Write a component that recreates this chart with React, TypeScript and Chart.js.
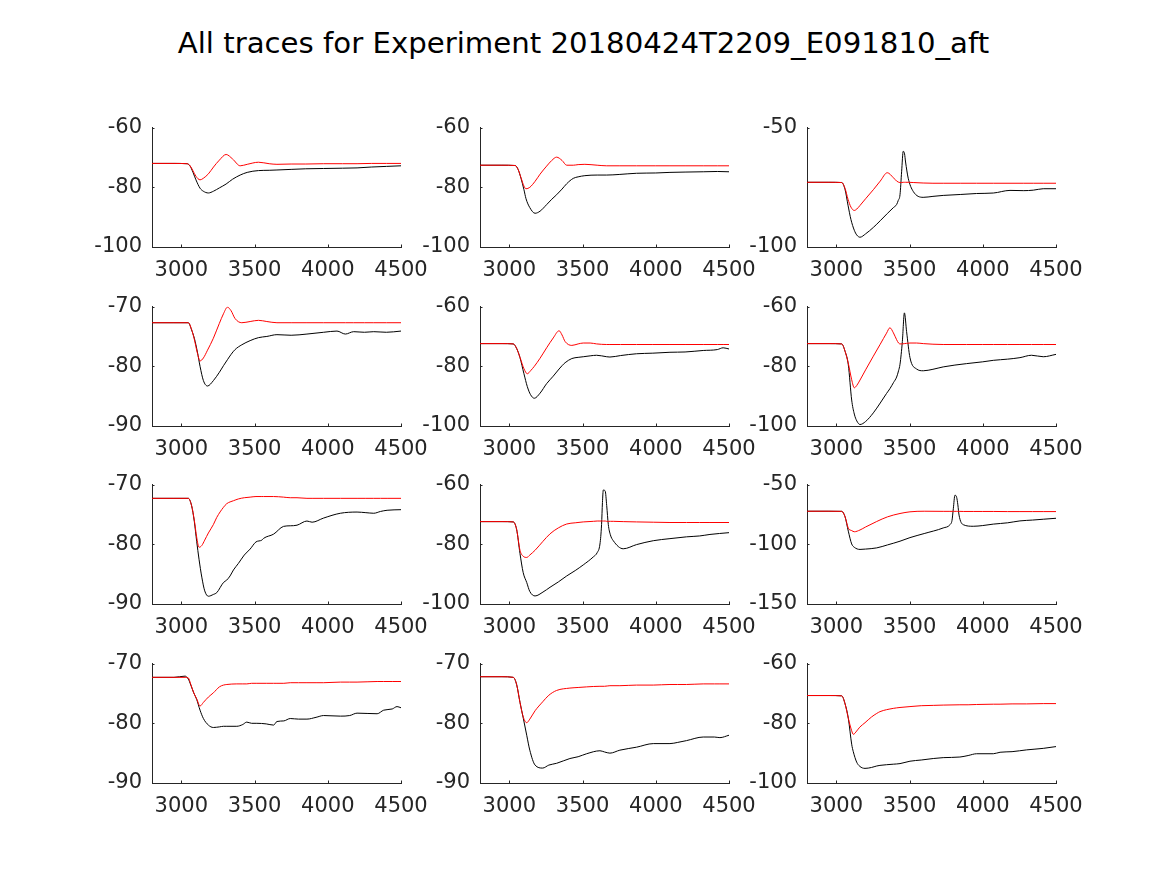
import React, { useEffect, useRef } from "react";
import { Chart, registerables } from "chart.js";

Chart.register(...registerables);

const TITLE = "All traces for Experiment 20180424T2209_E091810_aft";
const X_MIN = 2800;
const X_MAX = 4500;
const X_TICKS = [3000, 3500, 4000, 4500];

// Panel 1 (row 1, col 1)
const X1 = [2800, 2950, 3040, 3060, 3080, 3100, 3128, 3150, 3185, 3220, 3260, 3306, 3350, 3402, 3450, 3527, 3600, 3653, 3750, 3850, 3972, 4100, 4200, 4300, 4400, 4500];
const RED1 = [-72, -72, -72.1, -72.8, -74.5, -76.3, -77.5, -77.0, -75.5, -73.2, -70.9, -69.0, -70.5, -72.8, -72.3, -71.6, -72.1, -72.3, -72.2, -72.2, -72.1, -72.1, -72.1, -72.0, -72.0, -72.0];
const BLACK1 = [-72, -72, -72.1, -72.9, -75.0, -77.5, -80.3, -81.3, -81.9, -81.3, -80.2, -78.9, -77.3, -75.9, -75.0, -74.4, -74.3, -74.2, -74.0, -73.8, -73.7, -73.6, -73.5, -73.2, -73.0, -72.8];
const YT1 = [-100, -80, -60];

// Panel 2 (row 1, col 2)
const X2 = [2800, 2950, 3040, 3060, 3080, 3100, 3114, 3140, 3176, 3210, 3255, 3290, 3323, 3360, 3392, 3437, 3470, 3516, 3600, 3665, 3750, 3869, 4000, 4097, 4200, 4324, 4420, 4500];
const RED2 = [-72.6, -72.6, -72.7, -74.0, -76.8, -79.6, -80.5, -80.0, -78.0, -75.6, -72.9, -71.0, -69.9, -71.0, -72.6, -72.6, -72.4, -72.3, -72.6, -72.8, -72.8, -72.8, -72.8, -72.8, -72.8, -72.8, -72.8, -72.8];
const BLACK2 = [-72.6, -72.6, -72.7, -74.0, -77.0, -80.8, -83.8, -86.8, -88.7, -88.0, -85.8, -84.0, -82.5, -80.6, -78.8, -77.0, -76.5, -76.1, -75.9, -75.9, -75.7, -75.3, -75.2, -75.0, -74.9, -74.8, -74.7, -74.8];
const YT2 = [-100, -80, -60];

// Panel 3 (row 1, col 3)
const X3 = [2800, 2950, 3037, 3060, 3080, 3100, 3123, 3140, 3162, 3200, 3253, 3300, 3348, 3390, 3412, 3423, 3435, 3446, 3457, 3466, 3473, 3491, 3525, 3593, 3660, 3730, 3850, 3958, 4072, 4186, 4280, 4345, 4413, 4500];
const RED3 = [-72.9, -72.9, -73.0, -75.5, -80.0, -83.3, -84.7, -84.1, -82.6, -79.8, -76.0, -72.4, -68.9, -71.0, -72.4, -72.8, -73.0, -73.0, -72.9, -72.9, -72.9, -72.9, -73.0, -73.2, -73.3, -73.3, -73.3, -73.3, -73.3, -73.3, -73.3, -73.3, -73.3, -73.3];
const BLACK3 = [-72.9, -72.9, -73.0, -76.0, -82.5, -88.5, -93.0, -95.0, -95.9, -94.5, -91.8, -89.0, -86.0, -83.5, -82.2, -80.5, -78.1, -68.5, -59.9, -61.0, -64.4, -71.2, -76.7, -79.2, -78.8, -78.4, -78.0, -77.6, -77.4, -76.3, -76.4, -76.2, -75.6, -75.6];
const YT3 = [-100, -50];

// Panel 4 (row 2, col 1)
const X4 = [2800, 2950, 3048, 3070, 3089, 3110, 3128, 3151, 3179, 3219, 3260, 3288, 3315, 3340, 3367, 3413, 3470, 3527, 3584, 3653, 3750, 3858, 3972, 4063, 4120, 4177, 4250, 4314, 4400, 4500];
const RED4 = [-72.7, -72.7, -72.7, -73.8, -75.5, -77.8, -79.1, -78.6, -77.3, -75.3, -72.8, -71.2, -70.1, -70.7, -72.0, -72.7, -72.5, -72.3, -72.5, -72.7, -72.7, -72.7, -72.7, -72.7, -72.7, -72.7, -72.7, -72.7, -72.7, -72.7];
const BLACK4 = [-72.7, -72.7, -72.7, -73.9, -75.3, -77.6, -80.0, -82.4, -83.3, -82.4, -81.0, -79.9, -78.9, -78.0, -77.2, -76.4, -75.7, -75.2, -75.0, -74.7, -74.8, -74.6, -74.3, -74.1, -74.6, -74.2, -74.3, -74.2, -74.3, -74.1];
const YT4 = [-90, -80, -70];

// Panel 5 (row 2, col 2)
const X5 = [2800, 2950, 3027, 3050, 3073, 3100, 3123, 3145, 3171, 3210, 3255, 3300, 3340, 3360, 3381, 3427, 3470, 3505, 3552, 3596, 3665, 3687, 3760, 3869, 3980, 4097, 4200, 4324, 4420, 4460, 4500];
const RED5 = [-72.4, -72.4, -72.5, -74.0, -77.0, -80.8, -82.5, -81.5, -80.0, -77.3, -73.8, -70.5, -68.1, -69.5, -71.7, -73.0, -72.5, -72.2, -72.2, -72.5, -72.7, -72.7, -72.7, -72.7, -72.7, -72.7, -72.7, -72.7, -72.7, -72.7, -72.7];
const BLACK5 = [-72.4, -72.4, -72.5, -74.0, -77.1, -82.5, -86.8, -89.5, -90.7, -89.0, -85.8, -83.3, -80.9, -79.8, -78.8, -77.4, -77.0, -76.8, -76.5, -76.3, -76.8, -76.9, -76.4, -75.8, -75.6, -75.3, -75.2, -74.7, -74.4, -73.8, -74.2];
const YT5 = [-100, -80, -60];

// Panel 6 (row 2, col 3)
const X6 = [2800, 2950, 3037, 3060, 3082, 3105, 3123, 3140, 3162, 3200, 3253, 3300, 3343, 3366, 3390, 3412, 3425, 3435, 3451, 3465, 3480, 3503, 3548, 3594, 3660, 3730, 3890, 4000, 4072, 4170, 4254, 4333, 4413, 4500];
const RED6 = [-72.4, -72.4, -72.5, -75.0, -79.0, -84.5, -87.2, -86.4, -84.6, -81.2, -76.6, -72.6, -68.9, -67.1, -68.8, -71.1, -72.2, -72.5, -72.5, -72.4, -72.3, -72.2, -72.2, -72.4, -72.6, -72.7, -72.7, -72.7, -72.7, -72.7, -72.7, -72.7, -72.7, -72.7];
const BLACK6 = [-72.4, -72.4, -72.5, -75.0, -79.5, -91.3, -96.0, -98.3, -99.5, -98.5, -95.6, -92.3, -89.1, -87.5, -85.5, -83.6, -81.5, -79.3, -71.7, -62.1, -68.4, -77.1, -80.9, -81.5, -81.0, -80.2, -79.1, -78.5, -78.0, -77.6, -77.1, -76.3, -76.8, -76.0];
const YT6 = [-100, -80, -60];

// Panel 7 (row 3, col 1)
const X7 = [2800, 2950, 3048, 3070, 3089, 3105, 3121, 3140, 3160, 3185, 3219, 3242, 3288, 3310, 3333, 3356, 3390, 3430, 3470, 3510, 3550, 3562, 3630, 3698, 3744, 3790, 3858, 3893, 3972, 4086, 4200, 4260, 4314, 4360, 4405, 4500];
const RED7 = [-72.3, -72.3, -72.3, -73.5, -76.0, -78.8, -80.5, -80.2, -79.3, -78.1, -76.7, -75.5, -73.8, -73.2, -72.9, -72.7, -72.4, -72.2, -72.1, -72.0, -72.0, -72.0, -72.0, -72.1, -72.2, -72.2, -72.3, -72.3, -72.3, -72.3, -72.3, -72.3, -72.3, -72.3, -72.3, -72.3];
const BLACK7 = [-72.3, -72.3, -72.3, -73.5, -76.2, -79.5, -82.5, -85.5, -87.8, -88.7, -88.4, -88.1, -86.4, -86.0, -85.3, -84.3, -83.2, -81.8, -80.8, -79.6, -79.3, -79.0, -78.3, -77.0, -76.9, -76.8, -76.1, -76.3, -75.6, -74.8, -74.6, -74.7, -74.8, -74.5, -74.3, -74.2];
const YT7 = [-90, -80, -70];

// Panel 8 (row 3, col 2)
const X8 = [2800, 2950, 3027, 3050, 3073, 3095, 3119, 3140, 3176, 3230, 3278, 3335, 3392, 3450, 3505, 3574, 3600, 3619, 3630, 3636, 3642, 3655, 3665, 3676, 3690, 3710, 3778, 3869, 3983, 4097, 4210, 4300, 4370, 4500];
const RED8 = [-72.4, -72.4, -72.5, -75.0, -82.0, -84.0, -84.4, -83.6, -82.0, -79.0, -76.5, -74.5, -73.2, -72.8, -72.5, -72.3, -72.2, -72.2, -72.2, -72.2, -72.2, -72.2, -72.3, -72.3, -72.3, -72.3, -72.4, -72.5, -72.6, -72.7, -72.7, -72.7, -72.7, -72.7];
const BLACK8 = [-72.4, -72.4, -72.5, -75.0, -83.1, -89.5, -92.8, -95.8, -97.3, -96.0, -94.4, -92.6, -90.6, -88.8, -86.9, -84.2, -82.8, -79.9, -73.4, -66.0, -61.8, -62.2, -67.0, -73.4, -76.8, -78.8, -81.5, -80.1, -78.8, -78.1, -77.5, -77.2, -76.7, -76.1];
const YT8 = [-100, -80, -60];

// Panel 9 (row 3, col 3)
const X9 = [2800, 2950, 3037, 3060, 3082, 3105, 3123, 3162, 3200, 3276, 3350, 3435, 3503, 3600, 3730, 3776, 3790, 3799, 3810, 3822, 3830, 3838, 3867, 3935, 4000, 4072, 4170, 4254, 4340, 4413, 4500];
const RED9 = [-72.3, -72.3, -72.4, -77.0, -86.5, -88.5, -89.5, -88.0, -85.5, -80.9, -77.0, -74.2, -72.8, -72.3, -72.4, -72.4, -72.4, -72.4, -72.4, -72.4, -72.4, -72.4, -72.5, -72.5, -72.5, -72.5, -72.6, -72.6, -72.6, -72.6, -72.6];
const BLACK9 = [-72.3, -72.3, -72.4, -77.0, -89.0, -99.7, -102.5, -104.3, -104.0, -103.0, -100.5, -97.4, -94.4, -91.0, -86.3, -83.6, -80.0, -70.2, -58.9, -60.8, -67.0, -75.5, -83.6, -84.9, -84.3, -83.1, -82.0, -80.4, -79.7, -79.0, -78.2];
const YT9 = [-150, -100, -50];

// Panel 10 (row 4, col 1)
const X10 = [2800, 2950, 3026, 3048, 3065, 3085, 3105, 3128, 3151, 3185, 3219, 3260, 3288, 3311, 3379, 3420, 3447, 3480, 3516, 3580, 3630, 3653, 3700, 3744, 3800, 3858, 3920, 3972, 4086, 4150, 4200, 4337, 4382, 4440, 4473, 4500];
const RED10 = [-72.3, -72.3, -72.3, -72.4, -73.5, -74.9, -75.9, -77.1, -76.5, -75.6, -74.9, -73.9, -73.6, -73.5, -73.4, -73.4, -73.4, -73.3, -73.3, -73.3, -73.3, -73.3, -73.3, -73.2, -73.2, -73.2, -73.2, -73.2, -73.1, -73.1, -73.1, -73.0, -73.0, -73.0, -73.0, -73.0];
const BLACK10 = [-72.3, -72.3, -72.1, -72.6, -73.6, -74.9, -76.0, -77.8, -79.2, -80.3, -80.7, -80.6, -80.5, -80.5, -80.5, -80.2, -79.8, -80.0, -80.0, -80.1, -80.3, -79.7, -79.6, -79.2, -79.3, -79.3, -79.0, -78.7, -78.8, -78.7, -78.3, -78.4, -77.8, -77.6, -77.2, -77.4];
const YT10 = [-90, -80, -70];

// Panel 11 (row 4, col 2)
const X11 = [2800, 2950, 3027, 3050, 3073, 3096, 3119, 3140, 3176, 3228, 3270, 3323, 3414, 3470, 3528, 3619, 3650, 3687, 3755, 3869, 3983, 4097, 4150, 4210, 4324, 4400, 4438, 4500];
const RED11 = [-72.2, -72.2, -72.3, -73.5, -76.5, -79.0, -79.9, -79.3, -77.9, -76.4, -75.3, -74.5, -74.1, -74.0, -73.9, -73.8, -73.8, -73.7, -73.7, -73.6, -73.6, -73.5, -73.5, -73.5, -73.4, -73.4, -73.4, -73.4];
const BLACK11 = [-72.2, -72.2, -72.3, -73.5, -76.5, -79.2, -82.0, -84.5, -87.0, -87.5, -87.0, -86.7, -85.9, -85.6, -85.1, -84.6, -84.8, -85.0, -84.5, -84.0, -83.4, -83.4, -83.2, -82.9, -82.3, -82.3, -82.4, -82.0];
const YT11 = [-90, -80, -70];

// Panel 12 (row 4, col 3)
const X12 = [2800, 2950, 3037, 3060, 3082, 3105, 3116, 3139, 3160, 3196, 3240, 3276, 3298, 3389, 3435, 3503, 3580, 3662, 3730, 3844, 3900, 3958, 4072, 4118, 4200, 4300, 4413, 4500];
const RED12 = [-70.7, -70.7, -70.8, -73.5, -78.3, -82.5, -83.7, -82.6, -81.3, -79.8, -77.9, -76.7, -76.1, -75.0, -74.7, -74.4, -74.1, -74.0, -73.9, -73.8, -73.8, -73.7, -73.6, -73.6, -73.5, -73.5, -73.4, -73.4];
const BLACK12 = [-70.7, -70.7, -70.8, -73.5, -78.3, -87.0, -89.5, -93.0, -94.4, -95.1, -94.8, -94.3, -94.1, -93.7, -93.5, -92.7, -92.3, -91.8, -91.5, -91.3, -90.8, -90.2, -90.2, -89.7, -89.5, -88.9, -88.4, -87.8];
const YT12 = [-100, -80, -60];

const PANELS = [
  { xs: X1, red: RED1, black: BLACK1, yTicks: YT1 },
  { xs: X2, red: RED2, black: BLACK2, yTicks: YT2 },
  { xs: X3, red: RED3, black: BLACK3, yTicks: YT3 },
  { xs: X4, red: RED4, black: BLACK4, yTicks: YT4 },
  { xs: X5, red: RED5, black: BLACK5, yTicks: YT5 },
  { xs: X6, red: RED6, black: BLACK6, yTicks: YT6 },
  { xs: X7, red: RED7, black: BLACK7, yTicks: YT7 },
  { xs: X8, red: RED8, black: BLACK8, yTicks: YT8 },
  { xs: X9, red: RED9, black: BLACK9, yTicks: YT9 },
  { xs: X10, red: RED10, black: BLACK10, yTicks: YT10 },
  { xs: X11, red: RED11, black: BLACK11, yTicks: YT11 },
  { xs: X12, red: RED12, black: BLACK12, yTicks: YT12 },
];

// Layout (pixels)
const COL_LEFT = [152, 480, 807];
const ROW_TOP = [125, 304, 482, 661];
const AX_W = 249;
const AX_H = 122;
const PAD_L = 70;
const PAD_T = 20;
const PAD_R = 40;
const PAD_B = 40;
const AXIS_COLOR = "#262626";
const FONT_FAMILY = "'DejaVu Sans', sans-serif";
const TICK_FONT_SIZE = 21;
const TICK_LEN = 2.5;

const inwardTicks = {
  id: "inwardTicks",
  afterDraw(chart: any) {
    const { ctx, chartArea: a, scales } = chart;
    const x = scales.x;
    const y = scales.y;
    ctx.save();
    ctx.strokeStyle = AXIS_COLOR;
    ctx.lineWidth = 1;
    ctx.beginPath();
    x.ticks.forEach((t: any) => {
      const px = Math.round(x.getPixelForValue(t.value)) + 0.5;
      ctx.moveTo(px, a.bottom);
      ctx.lineTo(px, a.bottom - TICK_LEN);
    });
    y.ticks.forEach((t: any) => {
      const py = Math.round(y.getPixelForValue(t.value)) + 0.5;
      ctx.moveTo(a.left, py);
      ctx.lineTo(a.left + TICK_LEN, py);
    });
    ctx.stroke();
    ctx.restore();
  },
};

function Panel({ index }: { index: number }) {
  const ref = useRef<HTMLCanvasElement>(null);
  const p = PANELS[index];
  const col = index % 3;
  const row = Math.floor(index / 3);
  const W = AX_W + PAD_L + PAD_R;
  const H = AX_H + PAD_T + PAD_B;

  useEffect(() => {
    if (!ref.current) return;
    const yMin = p.yTicks[0];
    const yMax = p.yTicks[p.yTicks.length - 1];
    const chart = new Chart(ref.current, {
      type: "line",
      data: {
        datasets: [
          {
            data: p.xs.map((x, i) => ({ x, y: p.red[i] })),
            borderColor: "#ff0000",
            borderWidth: 1,
            pointRadius: 0,
            fill: false,
            cubicInterpolationMode: "monotone",
          },
          {
            data: p.xs.map((x, i) => ({ x, y: p.black[i] })),
            borderColor: "#000000",
            borderWidth: 1,
            pointRadius: 0,
            fill: false,
            cubicInterpolationMode: "monotone",
          },
        ],
      },
      options: {
        animation: false,
        responsive: false,
        maintainAspectRatio: false,
        events: [],
        layout: { padding: { left: 0, top: PAD_T, right: PAD_R, bottom: 0 } },
        plugins: {
          legend: { display: false },
          tooltip: { enabled: false },
          title: { display: false },
        },
        scales: {
          x: {
            type: "linear",
            min: X_MIN,
            max: X_MAX,
            afterBuildTicks: (s: any) => {
              s.ticks = X_TICKS.map((v) => ({ value: v }));
            },
            afterFit: (s: any) => {
              s.height = PAD_B;
            },
            grid: { display: true, drawOnChartArea: false, drawTicks: false },
            border: { display: true, color: AXIS_COLOR, width: 1 },
            ticks: {
              color: AXIS_COLOR,
              font: { family: FONT_FAMILY, size: TICK_FONT_SIZE },
              padding: 11,
              maxRotation: 0,
              autoSkip: false,
              callback: (v: any) => String(v),
            },
          },
          y: {
            type: "linear",
            min: yMin,
            max: yMax,
            afterBuildTicks: (s: any) => {
              s.ticks = p.yTicks.map((v) => ({ value: v }));
            },
            afterFit: (s: any) => {
              s.width = PAD_L;
            },
            grid: { display: true, drawOnChartArea: false, drawTicks: false },
            border: { display: true, color: AXIS_COLOR, width: 1 },
            ticks: {
              color: AXIS_COLOR,
              font: { family: FONT_FAMILY, size: TICK_FONT_SIZE },
              padding: 10,
              autoSkip: false,
              callback: (v: any) => String(v),
            },
          },
        },
      } as any,
      plugins: [inwardTicks],
    });
    return () => chart.destroy();
  }, []);

  return (
    <canvas
      ref={ref}
      width={W}
      height={H}
      style={{
        position: "absolute",
        left: COL_LEFT[col] - PAD_L,
        top: ROW_TOP[row] - PAD_T,
        width: W,
        height: H,
      }}
    />
  );
}

export default function App() {
  return (
    <div
      style={{
        position: "absolute",
        left: 0,
        top: 0,
        width: 1167,
        height: 875,
        background: "#ffffff",
        overflow: "hidden",
      }}
    >
      <div
        style={{
          position: "absolute",
          left: 0,
          top: 29,
          width: 1167,
          textAlign: "center",
          fontFamily: FONT_FAMILY,
          fontSize: 29.2,
          lineHeight: "29px",
          color: "#000000",
          whiteSpace: "nowrap",
        }}
      >
        {TITLE}
      </div>
      {PANELS.map((_, i) => (
        <Panel key={i} index={i} />
      ))}
    </div>
  );
}
